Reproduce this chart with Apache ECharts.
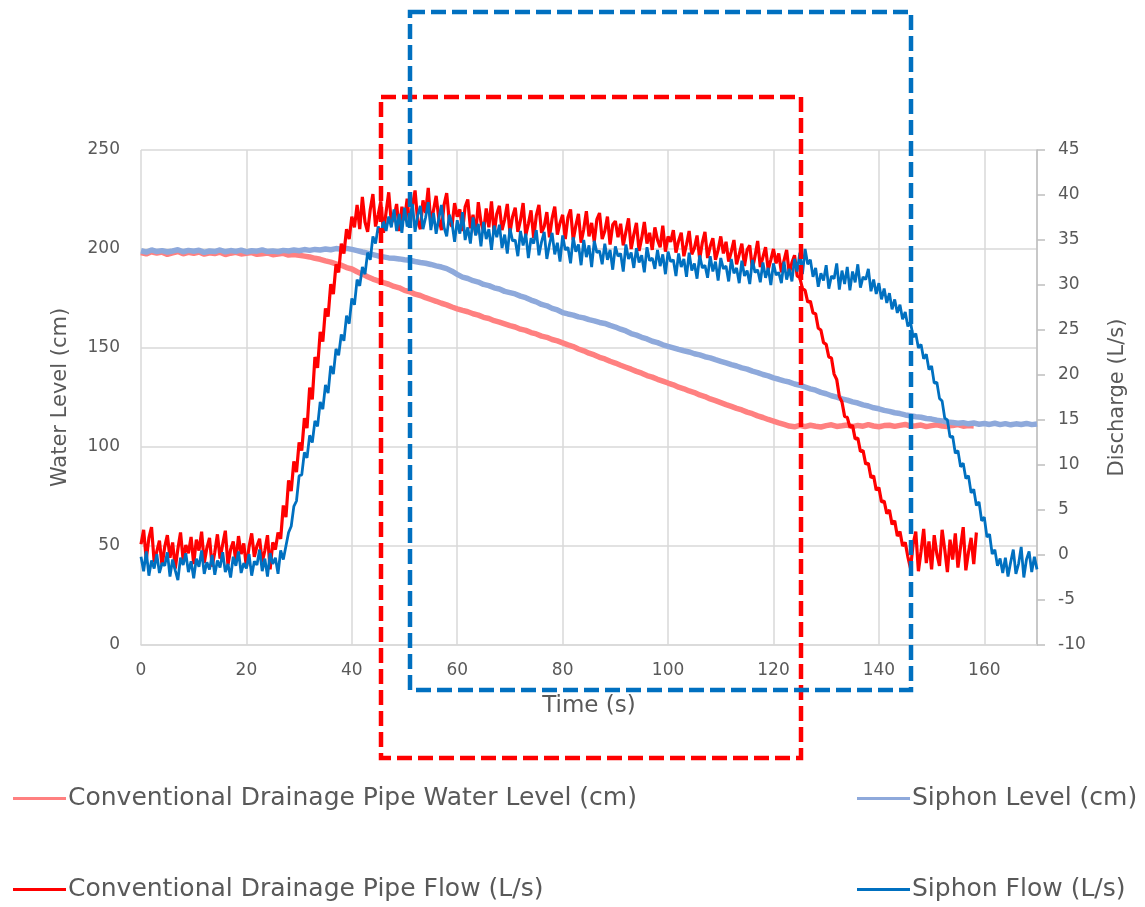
<!DOCTYPE html>
<html>
<head>
<meta charset="utf-8">
<script src="https://cdn.jsdelivr.net/npm/echarts@6/dist/echarts.min.js"></script>
<style>html,body{margin:0;padding:0;background:#fff}#c{width:1145px;height:907px}</style>
</head>
<body>
<div id="c"></div>
<script>
// ---- data ----
const xTicks = [0, 20, 40, 60, 80, 100, 120, 140, 160];
const FLOW_DT = 0.5;   // s between flow samples
const LEVEL_DT = 1;    // s between level samples

// Conventional drainage pipe flow (L/s), t = 0 .. 158.5 s
const convFlow = [
1.2,2.8,-0.5,1.9,3.1,-0.8,0.4,1.6,-1.2,0.9,2.2,-0.3,1.4,-1.5,0.7,2.5,-0.6,1.1,0.2,2.0,
-1.0,1.7,0.5,2.6,-0.9,0.8,1.9,-1.3,0.3,2.3,-0.4,1.2,2.7,-1.1,0.6,1.5,-0.7,2.1,0.1,1.3,
-1.4,0.9,2.4,-0.2,1.0,1.8,-0.8,0.5,2.2,-1.6,1.4,0.6,
2.5,1.8,5.5,4.2,8.3,7.1,10.4,9.2,12.5,11.6,15.2,14.1,18.6,17.3,22.0,20.8,24.8,23.7,27.4,26.5,
30.1,29.0,32.3,31.4,34.6,33.5,36.2,35.1,37.6,36.4,
38.9,36.2,39.8,37.0,35.9,38.4,40.1,36.5,37.8,39.3,35.8,38.1,40.3,36.9,37.5,39.0,36.0,38.7,37.2,39.6,
36.4,38.8,40.5,37.1,36.2,39.4,38.0,40.8,36.7,38.3,39.9,37.4,36.1,38.9,40.2,37.0,36.5,39.1,37.6,38.4,
36.0,38.7,39.5,36.3,37.8,35.6,39.2,37.0,35.9,38.5,36.4,39.3,35.7,37.9,38.8,36.1,37.3,39.0,35.8,37.6,
38.6,35.9,37.2,39.1,35.5,36.8,38.3,35.2,37.7,38.9,35.8,36.5,38.1,35.3,37.4,38.7,35.6,36.9,37.8,35.1,
37.5,38.4,35.0,36.6,37.9,34.7,36.2,38.2,35.4,36.9,34.8,37.3,38.0,35.1,36.0,37.6,34.5,36.7,37.1,35.3,
36.8,34.4,35.9,37.4,34.0,35.6,36.9,33.8,35.2,37.0,34.6,35.8,33.9,36.4,35.0,34.2,36.6,33.7,35.4,34.8,
36.1,33.6,34.9,35.8,33.2,34.5,36.0,33.4,34.1,35.5,32.9,34.7,35.9,33.0,34.3,35.2,32.8,33.9,35.4,33.5,
34.8,32.6,33.7,35.0,32.3,33.4,34.6,32.1,33.9,34.4,31.8,33.2,34.9,32.0,33.1,34.2,31.7,32.8,34.0,32.4,
33.5,31.4,32.7,33.9,31.2,32.5,33.3,31.0,
30.8,29.6,29.4,28.1,28.2,26.9,26.8,25.2,25.0,23.6,23.4,22.0,21.9,20.1,19.5,17.6,17.0,15.4,15.3,14.2,
14.4,12.9,13.0,11.5,11.6,10.1,10.2,8.6,8.8,7.2,7.5,5.9,6.0,4.6,5.0,3.4,3.8,2.1,2.6,1.0,1.4,-0.2,
-1.5,1.2,2.6,-1.8,0.4,2.9,-0.9,1.5,-1.6,2.2,0.1,-1.2,2.8,0.6,-1.9,1.7,-0.5,2.4,-1.4,0.9,
3.1,-1.7,0.3,1.9,-1.0,2.5
];

// Siphon flow (L/s), t = 0 .. 170 s
const siphonFlow = [
-0.2,-1.8,0.4,-2.3,-0.6,-1.5,0.1,-2.0,-0.9,-1.2,0.3,-2.4,-0.5,-1.7,-2.8,-0.3,-1.1,0.2,-1.9,-0.7,
-2.6,-0.4,-1.3,0.5,-2.1,-0.8,-1.6,0.0,-2.2,-0.6,-1.4,0.3,-1.9,-1.0,-2.5,-0.2,-1.2,0.4,-2.0,-0.9,
-1.5,0.1,-2.3,-0.7,-1.1,0.6,-1.8,-0.4,-2.4,0.2,-1.0,-0.3,-2.1,0.5,
-0.5,1.0,2.5,3.2,5.4,6.0,8.8,8.9,11.4,10.8,13.3,12.5,14.9,14.3,17.0,16.2,18.9,18.0,21.0,20.1,
22.9,22.2,24.5,23.8,26.6,25.7,28.5,27.8,30.6,29.9,32.0,31.2,33.6,32.8,35.4,34.6,36.5,35.6,37.1,36.0,
37.6,36.4,
38.4,36.0,37.9,35.8,38.6,36.5,37.3,39.0,35.9,37.7,38.8,36.2,37.5,39.2,36.1,38.0,35.7,37.4,38.9,36.4,
35.4,37.8,36.9,34.8,37.2,35.7,38.1,35.0,36.4,34.6,37.5,35.5,36.8,34.3,37.0,35.1,36.2,33.9,36.6,35.3,
36.7,34.1,35.6,33.5,36.3,34.9,35.0,33.2,36.0,34.4,35.7,33.0,35.2,34.6,36.1,33.3,34.8,35.9,32.9,34.5,
35.8,33.4,34.7,32.6,35.5,33.9,34.2,32.4,35.3,33.7,34.5,32.2,35.0,33.1,34.4,32.0,34.9,33.6,33.8,32.3,
34.6,32.8,33.9,31.7,34.3,33.2,33.5,31.5,34.5,32.9,33.6,31.9,34.1,32.5,33.3,31.4,34.2,32.7,33.0,31.8,
33.9,32.1,33.4,31.2,33.7,32.6,32.8,31.0,33.5,32.0,32.9,30.9,33.6,31.6,32.4,30.7,33.3,31.9,32.2,30.8,
33.2,31.5,32.6,30.5,33.0,31.8,32.1,30.4,32.9,31.3,31.9,30.2,32.7,31.0,31.6,30.1,32.8,31.4,31.7,30.3,
32.5,30.8,31.9,30.0,32.4,31.1,31.4,30.2,32.6,30.6,31.8,30.4,32.9,31.5,33.6,31.2,34.0,32.3,32.8,30.9,
31.9,29.8,31.3,30.5,32.2,29.6,31.0,30.7,32.4,29.5,31.6,30.1,32.0,29.4,31.5,30.3,32.3,29.7,30.9,30.6,
31.8,29.3,30.6,29.0,30.2,28.4,29.6,28.0,29.1,27.3,28.4,26.9,27.8,26.2,27.0,25.4,
25.9,24.2,24.6,23.0,23.4,21.8,22.3,20.6,21.0,19.1,19.2,17.4,17.1,15.2,15.0,13.1,13.2,11.3,11.6,9.8,
10.2,8.5,8.8,6.9,7.3,5.5,5.9,3.8,4.2,2.0,2.3,0.1,0.6,-1.2,-0.4,-2.0,
-0.3,-2.4,-0.8,0.6,-2.1,-1.0,0.9,-2.5,-0.5,0.4,-1.9,-0.2,-1.6
];

// Conventional drainage pipe water level (cm), t = 0 .. 158 s
const convLevel = [
198.2,197.5,198.6,197.9,198.4,197.3,198.0,198.7,197.6,198.3,197.8,198.5,197.4,198.1,197.7,198.4,197.2,197.9,198.3,197.5,
197.8,198.2,197.3,197.6,198.0,197.1,197.5,197.8,196.9,197.2,
196.8,196.4,196.0,195.3,194.8,194.0,193.4,192.5,191.8,190.6,189.9,188.5,187.3,186.0,184.8,183.9,
183.0,182.2,181.1,180.4,179.1,178.4,177.2,176.5,175.4,174.5,173.6,172.6,171.8,170.7,
169.8,169.0,168.3,167.3,166.6,165.5,164.9,163.8,163.1,162.2,161.3,160.6,159.5,158.9,157.8,157.1,156.0,155.4,154.3,153.6,152.6,
151.6,150.7,149.5,148.6,147.4,146.5,145.3,144.5,143.3,142.4,141.3,140.3,139.3,138.2,137.3,136.1,135.3,134.2,133.3,132.3,
131.4,130.2,129.4,128.3,127.5,126.3,125.5,124.3,123.4,122.4,121.4,120.5,119.5,118.7,117.6,116.8,115.7,114.9,113.9,113.1,112.2,
111.4,110.6,110.2,110.9,110.3,111.0,110.5,110.1,110.8,111.2,110.4,110.7,111.1,110.3,110.9,110.5,111.3,110.6,110.2,110.8,
111.0,110.4,110.9,111.4,110.5,110.7,111.1,110.3,110.8,111.2,110.6,110.4,110.9,111.3,110.5,110.8,110.6
];

// Siphon water level (cm), t = 0 .. 170 s
const siphonLevel = [
199.1,198.4,199.5,198.7,199.2,198.5,199.0,199.6,198.6,199.3,198.9,199.4,198.3,199.0,198.7,199.5,198.6,199.2,198.8,199.4,
198.5,199.1,198.9,199.6,198.7,199.0,198.6,199.3,199.0,199.5,199.1,199.7,199.3,199.8,199.5,200.0,199.6,200.2,199.9,200.3,
199.8,199.2,198.5,197.9,197.2,196.5,
196.0,195.5,195.3,195.0,194.6,194.3,193.7,193.2,192.8,192.2,191.5,190.9,190.1,188.8,187.2,
185.8,185.1,184.0,183.3,182.1,181.5,180.4,179.8,178.6,178.0,177.3,176.2,175.4,174.2,173.3,172.0,171.3,170.0,169.2,167.9,
167.2,166.6,165.7,165.2,164.3,163.7,162.9,162.4,161.4,160.6,159.5,158.6,157.3,156.5,155.4,154.6,153.4,152.7,151.6,150.8,
150.1,149.3,148.6,148.0,147.1,146.5,145.6,145.0,144.1,143.3,142.5,141.6,140.9,140.0,139.3,138.3,137.6,136.6,135.9,134.9,134.2,
133.4,132.8,131.8,131.2,130.3,129.4,128.7,127.6,126.9,125.9,125.2,124.3,123.7,122.8,122.2,121.3,120.7,119.8,119.3,118.5,
118.0,117.3,116.9,116.2,115.8,
115.3,115.0,114.4,114.1,113.5,113.2,112.6,112.4,112.0,112.3,111.7,112.1,111.5,111.9,111.4,112.0,111.3,111.8,111.2,111.7,
111.4,111.9,111.3,111.6
];

const names = {
  convLevel: 'Conventional Drainage Pipe Water Level (cm)',
  siphonLevel: 'Siphon Level (cm)',
  convFlow: 'Conventional Drainage Pipe Flow (L/s)',
  siphonFlow: 'Siphon Flow (L/s)'
};
const colors = {
  convLevel: '#FF8080',
  siphonLevel: '#8EA9DB',
  convFlow: '#FF0000',
  siphonFlow: '#0070C0'
};

function toPairs(arr, dt) { return arr.map((v, i) => [i * dt, v]); }

const FONT = 'DejaVu Sans';
const TXT = '#595959';
const GRIDC = '#D9D9D9';

const chart = echarts.init(document.getElementById('c'), null, { renderer: 'canvas' });

function legendAt(key, left, top) {
  return {
    left: left, top: top, orient: 'horizontal',
    itemWidth: 53, itemHeight: 3, itemGap: 0,
    data: [{ name: names[key], icon: 'rect', itemStyle: { color: colors[key] } }],
    textStyle: { fontFamily: FONT, fontSize: 25, color: TXT, padding: [0, 0, 0, -3] },
    selectedMode: false
  };
}

const option = {
  animation: false,
  backgroundColor: '#fff',
  grid: { left: 141, right: 108, top: 150, bottom: 262, containLabel: false },
  legend: [
    legendAt('convLevel', 8, 781),
    legendAt('siphonLevel', 852, 781),
    legendAt('convFlow', 8, 872),
    legendAt('siphonFlow', 852, 872)
  ],
  xAxis: {
    type: 'value', min: 0, max: 170, interval: 20,
    name: 'Time (s)', nameLocation: 'middle', nameGap: 50,
    nameTextStyle: { fontFamily: FONT, fontSize: 23, color: TXT },
    axisLine: { show: true, lineStyle: { color: GRIDC, width: 1.5 } },
    axisTick: { show: false },
    axisLabel: { fontFamily: FONT, fontSize: 17, color: TXT, margin: 17, showMaxLabel: false,
      formatter: v => (xTicks.indexOf(v) >= 0 ? String(v) : '') },
    splitLine: { show: true, lineStyle: { color: GRIDC, width: 1.5 } }
  },
  yAxis: [
    {
      type: 'value', min: 0, max: 250, interval: 50, position: 'left',
      name: 'Water Level (cm)', nameLocation: 'middle', nameGap: 70,
      nameTextStyle: { fontFamily: FONT, fontSize: 21, color: TXT },
      axisLine: { show: false }, axisTick: { show: false },
      axisLabel: { fontFamily: FONT, fontSize: 17, color: TXT, margin: 21 },
      splitLine: { show: true, lineStyle: { color: GRIDC, width: 1.5 } }
    },
    {
      type: 'value', min: -10, max: 45, interval: 5, position: 'right',
      name: 'Discharge (L/s)', nameLocation: 'middle', nameGap: 70,
      nameTextStyle: { fontFamily: FONT, fontSize: 21, color: TXT },
      axisLine: { show: true, lineStyle: { color: '#BFBFBF', width: 1.5 } },
      axisTick: { show: true, inside: false, length: 8, lineStyle: { color: '#BFBFBF', width: 1.5 } },
      axisLabel: { fontFamily: FONT, fontSize: 17, color: TXT, margin: 21 },
      splitLine: { show: false }
    }
  ],
  series: [
    { name: names.convLevel, type: 'line', yAxisIndex: 0, data: toPairs(convLevel, LEVEL_DT),
      showSymbol: false, symbol: 'none', lineStyle: { color: colors.convLevel, width: 5.5 }, itemStyle: { color: colors.convLevel } },
    { name: names.siphonLevel, type: 'line', yAxisIndex: 0, data: toPairs(siphonLevel, LEVEL_DT),
      showSymbol: false, symbol: 'none', lineStyle: { color: colors.siphonLevel, width: 5.5 }, itemStyle: { color: colors.siphonLevel } },
    { name: names.convFlow, type: 'line', yAxisIndex: 1, data: toPairs(convFlow, FLOW_DT),
      showSymbol: false, symbol: 'none', lineStyle: { color: colors.convFlow, width: 3.2 }, itemStyle: { color: colors.convFlow } },
    { name: names.siphonFlow, type: 'line', yAxisIndex: 1, data: toPairs(siphonFlow, FLOW_DT),
      showSymbol: false, symbol: 'none', lineStyle: { color: colors.siphonFlow, width: 2.8 }, itemStyle: { color: colors.siphonFlow } }
  ],
  graphic: [
    { type: 'rect', z: 100, silent: true,
      shape: { x: 381, y: 97, width: 420, height: 661 },
      style: { fill: 'none', stroke: '#FF0000', lineWidth: 4.5, lineDash: [15, 6] } },
    { type: 'rect', z: 101, silent: true,
      shape: { x: 410, y: 12, width: 501, height: 678 },
      style: { fill: 'none', stroke: '#0070C0', lineWidth: 4.5, lineDash: [15, 6] } }
  ]
};
chart.setOption(option);
</script>
</body>
</html>
